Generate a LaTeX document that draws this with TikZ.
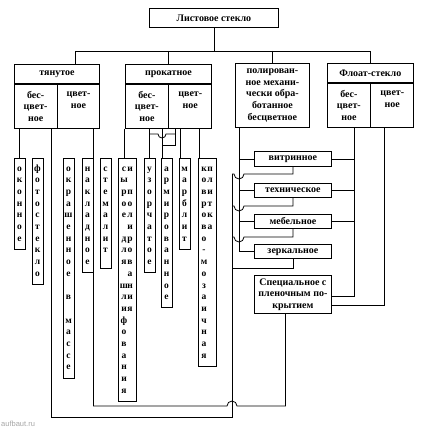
\documentclass[tikz,border=0pt]{standalone}
\usepackage{fontspec}
\setmainfont{Liberation Serif}
\setsansfont{Liberation Sans}
\usetikzlibrary{positioning,calc}

\newcommand{\pr}[2]{\strut\makebox[6pt]{#1}\makebox[6pt]{#2}}

\tikzset{
    box/.style={draw, line width=0.8pt, align=center, inner sep=0pt,
        font=\bfseries\fontsize{10}{11.7}\selectfont},
    head/.style={box, anchor=north west, minimum width=86, minimum height=19},
    half/.style={box, anchor=north west, minimum width=43, minimum height=44},
    kind/.style={box, minimum width=77, minimum height=14},
    vbox/.style={draw, line width=0.8pt, anchor=north, align=center,
        inner xsep=1pt, inner ysep=4.5pt, minimum width=11pt,
        font=\bfseries\fontsize{9.5}{11.7}\selectfont},
    link/.style={line width=0.8pt}
}

\begin{document}
\begin{tikzpicture}[x=1pt, y=-1pt, node distance=16pt]
    \useasboundingbox (0,0) rectangle (436,428);

    % top level
    \node[box, anchor=north west, minimum width=129, minimum height=19] (root) at (149,8) {Листовое стекло};

    % groups
    \node[head, minimum width=85] (tyan) at (14,64) {тянутое};
    \node[half, minimum width=42.5] (tyanb) at (tyan.south west) {бес-\\цвет-\\ное};
    \node[half, minimum width=42.5] (tyanc) at (tyan.south) {цвет-\\ное\\~};
    \node[head] (prok) at (125,64) {прокатное};
    \node[half] (prokb) at (prok.south west) {бес-\\цвет-\\ное};
    \node[half] (prokc) at (prok.south) {цвет-\\ное\\~};
    \node[box, anchor=north west, minimum width=74, minimum height=64] (pol) at (235,63)
        {полирован-\\ное механи-\\чески обра-\\ботанное\\бесцветное};
    \node[head] (flt) at (327,63) {Флоат-стекло};
    \node[half] (fltb) at (flt.south west) {бес-\\цвет-\\ное};
    \node[half] (fltc) at (flt.south) {цвет-\\ное\\~};

    % vertical boxes
    \node[vbox] (okon) at (19.5,158) {\strut о\\к\\о\\н\\н\\о\\е\strut};
    \node[vbox] (foto) at (37.5,158) {\strut ф\\о\\т\\о\\с\\т\\е\\к\\л\\о\strut};
    \node[vbox] (okr) at (68.5,158) {\strut о\\к\\р\\а\\ш\\е\\н\\н\\о\\е\\~\\в\\~\\м\\а\\с\\с\\е\strut};
    \node[vbox] (nakl) at (87.5,158) {\strut н\\а\\к\\л\\а\\д\\н\\о\\е\strut};
    \node[vbox] (stem) at (105.5,158) {\strut с\\т\\е\\м\\а\\л\\и\\т\strut\\[-4pt]\strut};
    \node[vbox, inner xsep=3pt] (syr) at (127,158) {\pr{с}{и}\\\pr{ы}{}\\\pr{р}{п}\\\pr{о}{о}\\\pr{е}{л}\\\pr{}{и}\\\pr{д}{р}\\\pr{л}{о}\\\pr{я}{в}\\\pr{}{а}\\\pr{ш}{н}\\\pr{л}{и}\\\pr{и}{я}\\\pr{ф}{}\\\pr{о}{}\\\pr{в}{}\\\pr{а}{}\\\pr{н}{}\\\pr{и}{}\\\pr{я}{}};
    \node[vbox] (uzor) at (149.5,158) {\strut у\\з\\о\\р\\ч\\а\\т\\о\\е\strut};
    \node[vbox] (arm) at (166.5,158) {\strut а\\р\\м\\и\\р\\о\\в\\а\\н\\н\\о\\е\strut};
    \node[vbox] (marb) at (184.5,158) {\strut м\\а\\р\\б\\л\\и\\т\strut};
    \node[vbox, inner xsep=3pt] (kovr) at (207,158) {\pr{к}{п}\\\pr{о}{л}\\\pr{в}{и}\\\pr{р}{т}\\\pr{о}{к}\\\pr{в}{а}\\\pr{о}{}\\\pr{-}{}\\\pr{м}{}\\\pr{о}{}\\\pr{з}{}\\\pr{а}{}\\\pr{и}{}\\\pr{ч}{}\\\pr{н}{}\\\pr{а}{}\\\pr{я}{}};

    % kinds of float glass
    \node[kind, anchor=north west, minimum height=15] (vitr) at (254,151) {витринное};
    \node[kind, below=of vitr] (tech) {техническое};
    \node[kind, below=of tech] (mebl) {мебельное};
    \node[kind, below=of mebl] (zerk) {зеркальное};
    \node[kind, below=of zerk, minimum height=38] (spec) {Специальное с\\пленочным по-\\крытием};

    \node[anchor=south west, inner sep=1pt, text=gray!70, font=\sffamily\fontsize{7.5}{8}\selectfont] (wm) at (0,428) {aufbaut.ru};

    % helper points
    \coordinate (bus) at (0,51);
    \coordinate (h1) at (0,134);
    \coordinate (h2) at (0,145);
    \coordinate (low1) at (0,406);
    \coordinate (low2) at (0,417);
    \coordinate (trunk) at (232,174);
    \coordinate (s1) at ([xshift=-3pt]syr.north);
    \coordinate (a1) at ([xshift=-4.5pt]arm.north);
    \coordinate (m1) at ([xshift=-4.5pt]marb.north);
    \coordinate (k1) at ([xshift=-8pt]kovr.north);
    \coordinate (br) at ([xshift=-14.5pt]prokc.south);
    \coordinate (pl) at ([xshift=4pt]pol.south west);
    \coordinate (fb) at ([xshift=5.5pt]fltb.south);
    \coordinate (fc) at ([xshift=-7.5pt]fltc.south);
    \coordinate (sp) at ([xshift=-7.5pt]spec.south);

    % tree
    \draw[link] (root.south) -- (bus -| root.south);
    \draw[link] ([xshift=18.5pt]tyan.north) |- (bus -| flt.north) -- (flt.north);
    \draw[link] (bus -| prok.north) -- (prok.north);
    \draw[link] (bus -| pol.north) -- (pol.north);

    % drawn glass
    \draw[link] (tyanb.south -| okon.north) -- (okon.north);
    \draw[link] ([xshift=15.5pt]tyanb.south) |- (low2 -| trunk) -- (trunk);
    \draw[link] ([xshift=15pt]tyanc.south) |- (227,406) arc[start angle=180, end angle=360, radius=5] -- (sp |- low1) -- (sp);

    % rolled glass
    \draw[link] (prokb.south -| s1) -- (s1);
    \draw[link] (prokb.south -| uzor.north) -- (uzor.north);
    \draw[link] (prokb.south -| a1) -- (a1);
    \draw[link] (prokc.south -| m1) -- (m1);
    \draw[link] (prokc.south -| k1) -- (k1);
    \draw[link] (br) |- (h2 -| a1);
    \draw[link] (h1 -| uzor.north) -- (158,134) arc[start angle=180, end angle=0, radius=4] -- (h1 -| br);

    % polished and float glass
    \draw[link] (pl) |- (zerk.west);
    \foreach \n in {vitr,tech,mebl}
        \draw[link] (pl |- \n.west) -- (\n.west);
    \draw[link] (fb) |- ([yshift=-2pt]spec.east);
    \foreach \n in {vitr,tech,mebl}
        \draw[link] (fb |- \n.east) -- (\n.east);
    \draw[link] (fc) |- ([yshift=-11pt]spec.east);
    \foreach \n/\y in {vitr/174, tech/206, mebl/237}
        \draw[link] (\n.south) |- (244,\y) arc[start angle=0, end angle=180, radius=5] -- (232,\y);
    \draw[link] (zerk.south) |- (232,268);
\end{tikzpicture}
\end{document}
